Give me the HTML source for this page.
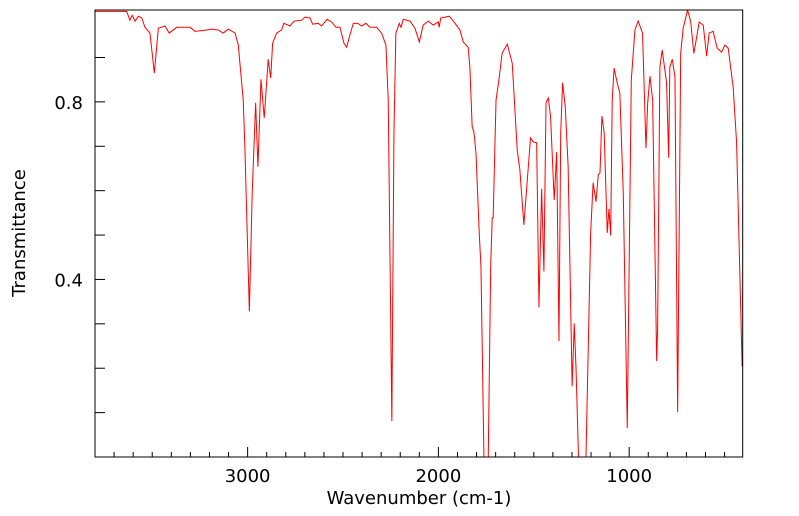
<!DOCTYPE html>
<html><head><meta charset="utf-8"><style>
html,body{margin:0;padding:0;background:#fff;}
svg{display:block;font-family:"DejaVu Sans","Liberation Sans",sans-serif;}
</style></head><body>
<svg id="chart" width="799" height="516" viewBox="0 0 799 516" xmlns="http://www.w3.org/2000/svg">
<defs><clipPath id="plotclip"><rect x="95" y="10" width="648" height="447"/></clipPath></defs>
<g id="ticks"></g>
<g id="labels"></g>
<path id="spectrum" fill="none" stroke="#ff0000" stroke-width="1" clip-path="url(#plotclip)"/>
<rect x="95" y="10" width="647.7" height="447" fill="none" stroke="#000" stroke-width="1"/>
<text x="419" y="504" font-size="18" text-anchor="middle">Wavenumber (cm-1)</text>
<text x="0" y="0" font-size="18" text-anchor="middle" transform="translate(25,233) rotate(-90)">Transmittance</text>
</svg>
<script>
const wavenumbers = [3800,3634,3617,3605,3590,3573,3555,3538,3512,3489,3468,3433,3411,3372,3302,3276,3215,3189,3154,3128,3101,3066,3049,3023,3014,2991,2976,2958,2946,2930,2913,2892,2879,2869,2848,2822,2810,2778,2757,2717,2700,2673,2659,2630,2612,2583,2560,2537,2516,2495,2481,2467,2446,2423,2402,2380,2359,2324,2298,2275,2263,2244,2233,2223,2205,2196,2184,2149,2123,2100,2080,2053,2027,2001,1996,1988,1943,1913,1887,1870,1844,1835,1823,1814,1803,1786,1777,1761,1739,1726,1718,1713,1698,1683,1666,1639,1613,1587,1573,1552,1534,1517,1503,1485,1473,1459,1447,1436,1424,1412,1393,1380,1368,1359,1349,1335,1320,1299,1288,1279,1265,1227,1202,1189,1174,1162,1153,1143,1131,1115,1106,1097,1089,1079,1063,1049,1031,1010,989,970,953,930,912,903,891,877,856,851,839,827,804,793,787,774,760,746,730,717,694,678,661,633,612,594,581,560,539,516,498,481,455,437,408];
const transmittance = [1.004,1.004,0.984,0.995,0.982,0.993,0.989,0.968,0.955,0.865,0.966,0.971,0.955,0.968,0.968,0.959,0.962,0.964,0.962,0.955,0.964,0.955,0.928,0.804,0.692,0.328,0.595,0.798,0.654,0.851,0.764,0.896,0.854,0.932,0.955,0.962,0.977,0.971,0.982,0.984,0.991,0.989,0.975,0.977,0.971,0.986,0.980,0.968,0.968,0.932,0.923,0.946,0.977,0.977,0.971,0.977,0.968,0.968,0.955,0.928,0.804,0.081,0.730,0.955,0.977,0.968,0.986,0.982,0.966,0.935,0.973,0.982,0.973,0.980,0.968,0.989,0.993,0.977,0.962,0.935,0.923,0.878,0.744,0.732,0.685,0.505,0.429,-0.01,-0.01,0.429,0.539,0.539,0.804,0.849,0.910,0.930,0.887,0.692,0.647,0.523,0.624,0.719,0.710,0.708,0.337,0.604,0.418,0.798,0.809,0.766,0.579,0.687,0.261,0.730,0.843,0.789,0.654,0.159,0.301,0.204,-0.01,-0.01,0.505,0.618,0.575,0.636,0.640,0.768,0.730,0.505,0.559,0.499,0.804,0.876,0.843,0.820,0.595,0.065,0.849,0.962,0.982,0.955,0.696,0.798,0.858,0.804,0.216,0.288,0.878,0.917,0.843,0.674,0.878,0.896,0.856,0.101,0.910,0.966,1.007,0.982,0.909,0.980,0.973,0.903,0.955,0.959,0.921,0.912,0.928,0.921,0.833,0.708,0.204];
const xTickLabels = [3000,2000,1000];
const yTickLabels = [0.4,0.8];

const X0=95, X1=742.7, Y0=457, Y1=10, WMAX=3800, WMIN=405, TMIN=0, TMAX=1.007;
function xs(w){return X0+(WMAX-w)/(WMAX-WMIN)*(X1-X0);}
function ys(t){return Y0-(t-TMIN)/(TMAX-TMIN)*(Y0-Y1);}
const NS='http://www.w3.org/2000/svg';
let d='';
for(let i=0;i<wavenumbers.length;i++){d+=(i?'L':'M')+xs(wavenumbers[i]).toFixed(2)+','+ys(transmittance[i]).toFixed(2);}
document.getElementById('spectrum').setAttribute('d',d);

const tg=document.getElementById('ticks'), lg=document.getElementById('labels');
function line(x1,y1,x2,y2){const l=document.createElementNS(NS,'line');l.setAttribute('x1',x1);l.setAttribute('y1',y1);l.setAttribute('x2',x2);l.setAttribute('y2',y2);l.setAttribute('stroke','#000');l.setAttribute('stroke-width','1');


tg.appendChild(l);}
for(let w=3700;w>=WMIN;w-=100){const x=xs(w);const major=(w%1000===0);line(x,Y0,x,Y0-(major?10:5));}
for(let k=1;k<=9;k++){const t=k/10;const y=ys(t);line(X0,y,X0+10,y);}
xTickLabels.forEach(v=>{const t=document.createElementNS(NS,'text');t.setAttribute('x',xs(v));t.setAttribute('y',482);t.setAttribute('font-size','18');t.setAttribute('text-anchor','middle');t.textContent=v;


lg.appendChild(t);});
yTickLabels.forEach(v=>{const t=document.createElementNS(NS,'text');t.setAttribute('x',83);t.setAttribute('y',ys(v)+7);t.setAttribute('font-size','18');t.setAttribute('text-anchor','end');t.textContent=v.toFixed(1);


lg.appendChild(t);});
</script>
</body></html>
